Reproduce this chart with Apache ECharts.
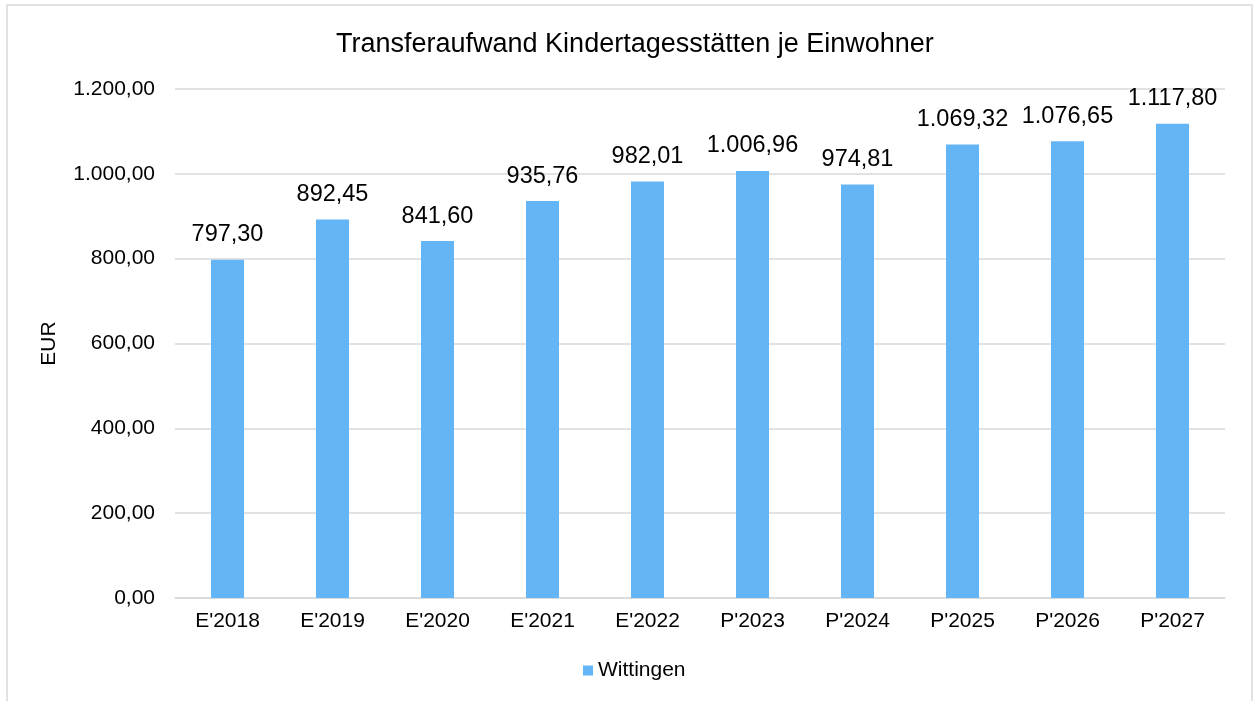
<!DOCTYPE html>
<html>
<head>
<meta charset="utf-8">
<script src="https://cdn.jsdelivr.net/npm/echarts@6/dist/echarts.min.js"></script>
<style>
  html, body { margin: 0; padding: 0; background: #fff; }
  #chart { width: 1255px; height: 701px; }
</style>
</head>
<body>
<div id="chart"></div>
<script>
// Transferaufwand Kindertagesstätten je Einwohner (EUR)
const categories = ["E'2018", "E'2019", "E'2020", "E'2021", "E'2022", "P'2023", "P'2024", "P'2025", "P'2026", "P'2027"];
const wittingen = [797.30, 892.45, 841.60, 935.76, 982.01, 1006.96, 974.81, 1069.32, 1076.65, 1117.80];
const seriesName = 'Wittingen';

// German number format: 1.234,56
function fmtDE(v) {
  const parts = Number(v).toFixed(2).split('.');
  parts[0] = parts[0].replace(/\B(?=(\d{3})+(?!\d))/g, '.');
  return parts[0] + ',' + parts[1];
}

const font = 'Liberation Sans, Arial, sans-serif';
const chart = echarts.init(document.getElementById('chart'), null, { renderer: 'canvas' });

chart.setOption({
  backgroundColor: '#ffffff',
  animation: false,
  graphic: [{
    type: 'rect',
    shape: { x: 7, y: 5, width: 1245, height: 730 },
    style: { fill: 'none', stroke: '#d9d9d9', lineWidth: 1.5 },
    silent: true
  }],
  title: {
    text: 'Transferaufwand Kindertagesstätten je Einwohner',
    left: 331,
    top: 26,
    textStyle: { fontFamily: font, fontSize: 27, fontWeight: 'normal', color: '#000' }
  },
  legend: {
    data: [seriesName],
    top: 655,
    left: 578,
    icon: 'rect',
    itemWidth: 10,
    itemHeight: 10,
    itemGap: 4,
    textStyle: { fontFamily: font, fontSize: 21, color: '#000', padding: [0, 0, 0, 0] }
  },
  grid: { left: 175, right: 30, top: 89, bottom: 103 },
  xAxis: {
    type: 'category',
    data: categories,
    axisLine: { lineStyle: { color: '#d9d9d9', width: 1.5 } },
    axisTick: { show: false },
    axisLabel: { fontFamily: font, fontSize: 21, color: '#000', margin: 13 }
  },
  yAxis: {
    type: 'value',
    min: 0,
    max: 1200,
    interval: 200,
    name: 'EUR',
    nameLocation: 'middle',
    nameRotate: 90,
    nameGap: 115,
    nameTextStyle: { fontFamily: font, fontSize: 21, color: '#000' },
    axisLine: { show: false },
    axisTick: { show: false },
    splitLine: { lineStyle: { color: '#d9d9d9', width: 1.5 } },
    axisLabel: { fontFamily: font, fontSize: 21, color: '#000', margin: 20, formatter: fmtDE }
  },
  series: [{
    name: seriesName,
    type: 'bar',
    data: wittingen,
    barWidth: 33,
    itemStyle: { color: '#64B5F6' },
    label: {
      show: true,
      position: 'top',
      distance: 13,
      fontFamily: font,
      fontSize: 23.5,
      color: '#000',
      formatter: p => fmtDE(p.value)
    }
  }]
});
</script>
</body>
</html>
